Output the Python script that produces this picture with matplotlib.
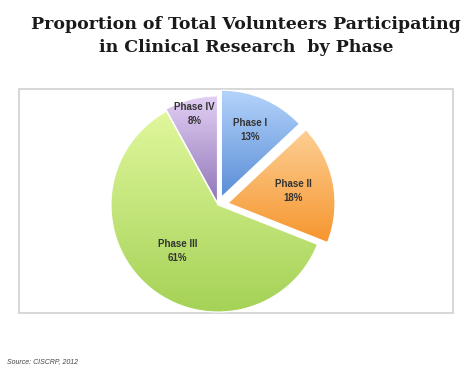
import numpy as np
import matplotlib
matplotlib.use("Agg")
import matplotlib.pyplot as plt
from matplotlib.colors import to_rgb
from matplotlib.patches import Rectangle

# --- data ---
phases = ["Phase I", "Phase II", "Phase III", "Phase IV"]
shares = [13, 18, 61, 8]
explode = [0.08, 0.095, 0.0, 0.02]   # fraction of radius
top_colors = ["#b3d3fb", "#fdcf94", "#e0f79c", "#e2d0f4"]
bottom_colors = ["#5b8ed6", "#f6962f", "#a5d257", "#9075b8"]
label_dist = [0.68, 0.62, 0.57, 0.86]

title = "Proportion of Total Volunteers Participating\nin Clinical Research  by Phase"
source = "Source: CISCRP, 2012"

W, H = 475, 369
fig = plt.figure(figsize=(W / 100, H / 100), dpi=100)
ax = fig.add_axes([0, 0, 1, 1])
ax.set_axis_off()

# light gray frame round the plot area
ax.add_patch(Rectangle((19, H - 313), 434, 224, fill=False,
                       edgecolor="#d4d4d4", linewidth=1.3, zorder=0))

cx, cy, r = 218, H - 205, 107
wedges, _ = ax.pie(shares, explode=[e * r for e in explode], startangle=90,
                   counterclock=False, center=(cx, cy), radius=r, frame=True,
                   wedgeprops=dict(edgecolor="white", linewidth=0.8))

# vertical gradient fill in each wedge
for w, c0, c1 in zip(wedges, top_colors, bottom_colors):
    w.set_facecolor("none")
    ext = w.get_path().get_extents()
    t = np.linspace(0, 1, 64)[:, None]
    grad = (1 - t) * np.array(to_rgb(c1)) + t * np.array(to_rgb(c0))
    im = ax.imshow(grad[:, None, :], extent=[ext.x0, ext.x1, ext.y0, ext.y1],
                   origin="lower", aspect="auto", interpolation="bilinear", zorder=1)
    im.set_clip_path(w)
    w.set_zorder(2)

# labels
for w, name, val, d in zip(wedges, phases, shares, label_dist):
    ang = np.deg2rad((w.theta1 + w.theta2) / 2)
    x = w.center[0] + d * r * np.cos(ang)
    y = w.center[1] + d * r * np.sin(ang)
    ax.text(x, y, f"{name}\n{val}%", ha="center", va="center",
            fontsize=7, fontweight="bold", family="Liberation Sans",
            color="#333333", linespacing=1.5, zorder=3)

ax.set_xlim(0, W)
ax.set_ylim(0, H)
ax.set_aspect("auto")
ax.set_axis_off()

fig.text(246 / W, 1 - 36 / H, title, ha="center", va="center",
         fontsize=12.5, fontweight="bold", family="DejaVu Serif",
         color="#1a1a1a", linespacing=1.5)
fig.text(7 / W, 1 - 362 / H, source, ha="left", va="center",
         fontsize=5, style="italic", family="Liberation Sans", color="#444444")

fig.savefig("out.png", dpi=100)
